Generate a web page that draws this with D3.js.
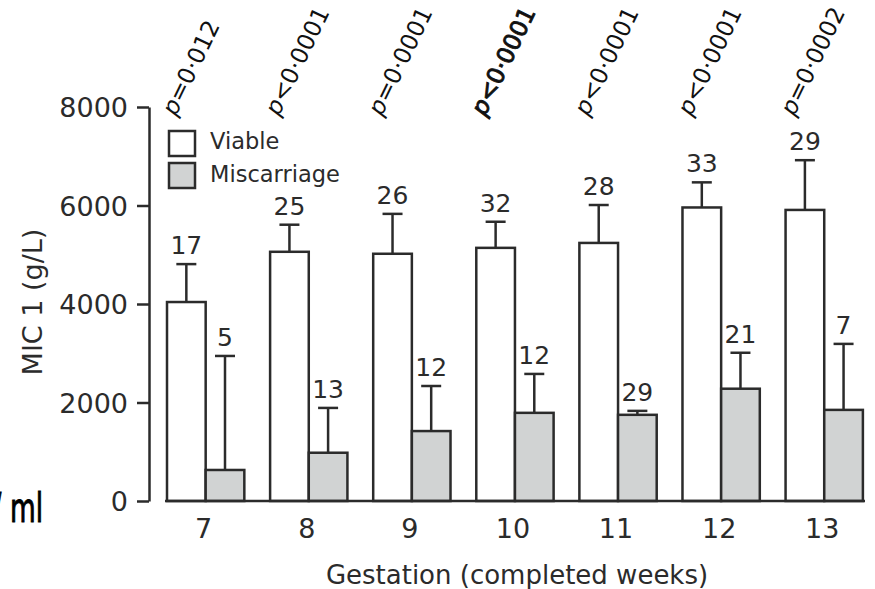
<!DOCTYPE html>
<html>
<head>
<meta charset="utf-8">
<script src="https://cdn.jsdelivr.net/npm/d3@7.9.0/dist/d3.min.js"></script>
<style>
  body { margin: 0; background: #fff; }
  svg { display: block; font-family: "DejaVu Sans", sans-serif; }
</style>
</head>
<body>
<svg id="chart"></svg>
<script>
const weeks = ["7", "8", "9", "10", "11", "12", "13"];
const series = ["Viable", "Miscarriage"];
const viableMean = [4040, 5060, 5020, 5140, 5240, 5960, 5910];
const viableErr = [770, 550, 810, 530, 770, 510, 1010];
const miscMean = [630, 980, 1420, 1790, 1750, 2280, 1850];
const miscErr = [2315, 910, 915, 790, 80, 730, 1340];
const viableN = [17, 25, 26, 32, 28, 33, 29];
const miscN = [5, 13, 12, 12, 29, 21, 7];
const pValues = ["p=0·012", "p<0·0001", "p=0·0001", "p<0·0001", "p<0·0001", "p<0·0001", "p=0·0002"];
const yTicks = [0, 2000, 4000, 6000, 8000];

const width = 875, height = 589;
const ink = "#2b2b2b";
const colors = { Viable: "#ffffff", Miscarriage: "#d1d3d3" };

const svg = d3.select("#chart").attr("width", width).attr("height", height);

const x = d3.scaleBand().domain(weeks).range([156.7, 873.2]).paddingInner(0.25).paddingOuter(0.1);
const xs = d3.scaleBand().domain(series).range([0, x.bandwidth()]);
const y = d3.scaleLinear().domain([0, 8000]).range([501, 107]);

// rows per week and series
const rows = [];
weeks.forEach((w, i) => {
    rows.push({ week: w, s: "Viable", mean: viableMean[i], err: viableErr[i], n: viableN[i] });
    rows.push({ week: w, s: "Miscarriage", mean: miscMean[i], err: miscErr[i], n: miscN[i] });
});

// y axis
const yAxis = svg.append("g")
    .attr("transform", "translate(149,0)")
    .call(d3.axisLeft(y).tickValues(yTicks).tickFormat(d3.format("d"))
        .tickSize(12).tickSizeOuter(0).tickPadding(9));
yAxis.select(".domain").attr("stroke", ink).attr("stroke-width", 2.5);
yAxis.selectAll(".tick line").attr("stroke", ink).attr("stroke-width", 2.5);
yAxis.selectAll(".tick text").attr("fill", ink).style("font-size", "27px")
    .style("font-family", "DejaVu Sans").attr("dy", "0.36em");

svg.append("text")
    .attr("transform", "translate(42,302) rotate(-90)")
    .attr("text-anchor", "middle")
    .attr("fill", ink)
    .style("font-size", "27px")
    .text("MIC 1 (g/L)");

// bars
const xPos = d => x(d.week) + xs(d.s);

svg.append("g").selectAll("rect")
    .data(rows)
    .join("rect")
    .attr("x", d => xPos(d))
    .attr("y", d => y(d.mean))
    .attr("width", xs.bandwidth())
    .attr("height", d => y(0) - y(d.mean))
    .attr("fill", d => colors[d.s])
    .attr("stroke", ink)
    .attr("stroke-width", 2.5);

// error bars
const eb = svg.append("g").attr("stroke", ink).attr("stroke-width", 2.5);
eb.selectAll("line.v")
    .data(rows)
    .join("line")
    .attr("class", "v")
    .attr("x1", d => xPos(d) + xs.bandwidth() / 2)
    .attr("x2", d => xPos(d) + xs.bandwidth() / 2)
    .attr("y1", d => y(d.mean))
    .attr("y2", d => y(d.mean + d.err));
eb.selectAll("line.cap")
    .data(rows)
    .join("line")
    .attr("class", "cap")
    .attr("x1", d => xPos(d) + xs.bandwidth() / 2 - 10)
    .attr("x2", d => xPos(d) + xs.bandwidth() / 2 + 10)
    .attr("y1", d => y(d.mean + d.err))
    .attr("y2", d => y(d.mean + d.err));

// counts above bars
svg.append("g").selectAll("text")
    .data(rows)
    .join("text")
    .attr("x", d => xPos(d) + xs.bandwidth() / 2)
    .attr("y", d => y(d.mean + d.err) - 10)
    .attr("text-anchor", "middle")
    .attr("fill", ink)
    .style("font-size", "25px")
    .text(d => d.n);

// x axis baseline
svg.append("line")
    .attr("x1", 165).attr("x2", 865)
    .attr("y1", y(0)).attr("y2", y(0))
    .attr("stroke", ink).attr("stroke-width", 2.5);

const xAxis = svg.append("g")
    .attr("transform", `translate(-2,${y(0)})`)
    .call(d3.axisBottom(x).tickSize(0).tickPadding(18));
xAxis.select(".domain").remove();
xAxis.selectAll(".tick text").attr("fill", ink).style("font-size", "27px")
    .style("font-family", "DejaVu Sans");

svg.append("text")
    .attr("x", 517).attr("y", 584)
    .attr("text-anchor", "middle")
    .attr("fill", ink)
    .style("font-size", "26px")
    .text("Gestation (completed weeks)");

// p values, the week 10 one drawn heavier
const pv = svg.append("g").selectAll("text")
    .data(pValues)
    .join("text")
    .attr("transform", (d, i) => `translate(${x(weeks[i]) + x.bandwidth() / 2 - 30},117) rotate(-64)`)
    .attr("fill", "#111")
    .attr("stroke", (d, i) => i === 3 ? "#111" : "none")
    .attr("stroke-width", 0.9)
    .style("font-size", "23.5px");
pv.append("tspan").style("font-style", "italic").text(d => d[0]);
pv.append("tspan").text(d => d.slice(1));

// legend
const legend = svg.append("g");
series.forEach((s, i) => {
    legend.append("rect")
        .attr("x", 169).attr("y", 131 + i * 32)
        .attr("width", 26).attr("height", 25)
        .attr("fill", colors[s]).attr("stroke", ink).attr("stroke-width", 2.5);
    legend.append("text")
        .attr("x", 210).attr("y", 149 + i * 33)
        .attr("fill", ink)
        .style("font-size", "22.5px")
        .text(s);
});

// fragment of an outside label at the left edge, mostly cut off
svg.append("text")
    .attr("transform", "translate(-7,522) scale(0.62,1)")
    .attr("fill", "#000")
    .attr("stroke", "#000")
    .attr("stroke-width", 1)
    .style("font-size", "40px")
    .text("/");
svg.append("text")
    .attr("transform", "translate(10,522) scale(0.66,1)")
    .attr("fill", "#000")
    .attr("stroke", "#000")
    .attr("stroke-width", 1)
    .style("font-size", "40px")
    .text("ml");
</script>
</body>
</html>
